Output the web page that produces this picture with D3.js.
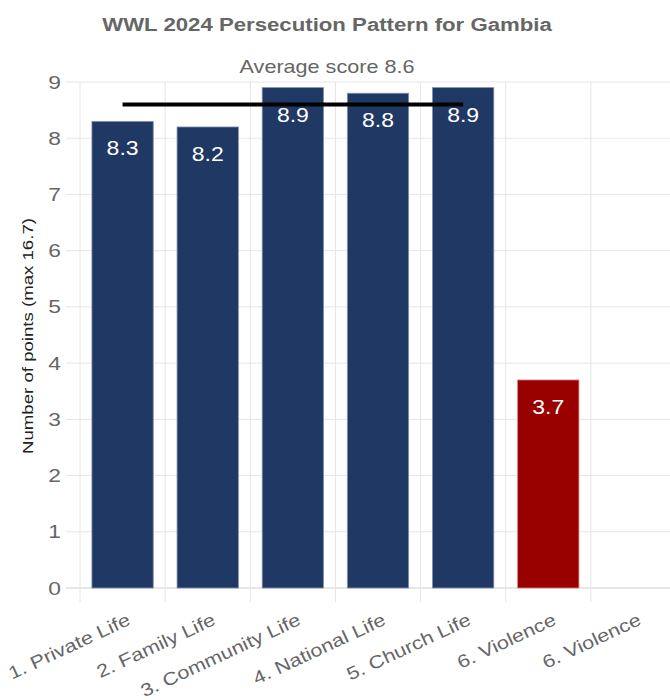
<!DOCTYPE html>
<html>
<head>
<meta charset="utf-8">
<script src="https://cdn.jsdelivr.net/npm/d3@7"></script>
<style>
  body { margin: 0; background: #fff; }
  svg { font-family: "Liberation Sans", Arial, sans-serif; }
</style>
</head>
<body>
<div id="chart"></div>
<script>
const categories = ['1. Private Life', '2. Family Life', '3. Community Life', '4. National Life', '5. Church Life', '6. Violence', '6. Violence '];
const scores = [8.3, 8.2, 8.9, 8.8, 8.9, 3.7, null];
const barColors = ['#203864', '#203864', '#203864', '#203864', '#203864', '#990000', '#990000'];
const averageLine = [8.6, 8.6, 8.6, 8.6, 8.6, null, null];
const yTicks = [0, 1, 2, 3, 4, 5, 6, 7, 8, 9];

const width = 670;
const height = 700;
const margin = { top: 82, right: -6, bottom: 112, left: 80 };
const innerWidth = width - margin.left - margin.right;
const innerHeight = height - margin.top - margin.bottom;
// text in the chart is drawn a bit wider than normal
const stretch = 1.2;

const svg = d3.select('#chart')
  .append('svg')
  .attr('width', width)
  .attr('height', height);

svg.append('text')
  .attr('transform', `translate(327,31) scale(${stretch},1)`)
  .attr('text-anchor', 'middle')
  .attr('font-size', 18.5)
  .attr('font-weight', 'bold')
  .attr('fill', '#666')
  .text('WWL 2024 Persecution Pattern for Gambia');

svg.append('text')
  .attr('transform', `translate(327,73) scale(${stretch},1)`)
  .attr('text-anchor', 'middle')
  .attr('font-size', 18)
  .attr('fill', '#666')
  .text('Average score 8.6');

const g = svg.append('g')
  .attr('transform', `translate(${margin.left},${margin.top})`);

const xScale = d3.scaleBand()
  .domain(categories)
  .range([0, innerWidth])
  .paddingInner(0.28)
  .paddingOuter(0.14);
const step = xScale.step();
const yScale = d3.scaleLinear().domain([0, 9]).range([innerHeight, 0]);

// grid
g.append('g')
  .selectAll('line')
  .data(yTicks)
  .enter()
  .append('line')
  .attr('x1', -14)
  .attr('x2', innerWidth)
  .attr('y1', (d) => yScale(d))
  .attr('y2', (d) => yScale(d))
  .attr('stroke', (d) => (d === 0 ? '#d0d0d0' : '#e6e6e6'))
  .attr('stroke-width', 1);

g.append('g')
  .selectAll('line')
  .data(categories)
  .enter()
  .append('line')
  .attr('x1', (d, i) => i * step)
  .attr('x2', (d, i) => i * step)
  .attr('y1', 0)
  .attr('y2', innerHeight + 14)
  .attr('stroke', '#e6e6e6')
  .attr('stroke-width', 1);

// y axis
const yAxis = d3.axisLeft(yScale).tickValues(yTicks).tickSize(0);
const yAxisG = g.append('g').call(yAxis);
yAxisG.select('.domain').remove();
yAxisG.selectAll('text')
  .attr('x', 0)
  .attr('transform', `translate(-19,0) scale(${stretch},1)`)
  .attr('font-size', 19)
  .attr('fill', '#666')
  .attr('font-family', '"Liberation Sans", Arial, sans-serif');

svg.append('text')
  .attr('transform', `translate(33,336) rotate(-90) scale(1.33,1)`)
  .attr('text-anchor', 'middle')
  .attr('font-size', 14)
  .attr('fill', '#222')
  .text('Number of points (max 16.7)');

// x labels
g.append('g')
  .selectAll('text')
  .data(categories)
  .enter()
  .append('text')
  .attr('transform', (d) => `translate(${xScale(d) + xScale.bandwidth() / 2 + 9},${innerHeight + 36}) rotate(-25) scale(${stretch},1)`)
  .attr('text-anchor', 'end')
  .attr('font-size', 18)
  .attr('fill', '#666')
  .text((d) => d.trim());

// bars
const barData = categories.map((c, i) => ({ cat: c, value: scores[i], color: barColors[i] }))
  .filter((d) => d.value !== null);

g.selectAll('.bar')
  .data(barData)
  .enter()
  .append('rect')
  .attr('class', 'bar')
  .attr('x', (d) => xScale(d.cat))
  .attr('y', (d) => yScale(d.value))
  .attr('width', xScale.bandwidth())
  .attr('height', (d) => innerHeight - yScale(d.value))
  .attr('fill', (d) => d.color)
  .attr('stroke', (d) => (d.color === '#990000' ? '#d98080' : '#8090b0'))
  .attr('stroke-width', 0.8);

// average line
const lineData = categories.map((c, i) => ({ cat: c, value: averageLine[i] }))
  .filter((d) => d.value !== null);
const valueline = d3.line()
  .x((d) => xScale(d.cat) + xScale.bandwidth() / 2)
  .y((d) => yScale(d.value));

g.append('path')
  .attr('d', valueline(lineData))
  .attr('fill', 'none')
  .attr('stroke', '#000')
  .attr('stroke-width', 4);

// value labels
g.selectAll('.label')
  .data(barData)
  .enter()
  .append('text')
  .attr('class', 'label')
  .attr('transform', (d) => `translate(${xScale(d.cat) + xScale.bandwidth() / 2},${yScale(d.value) + 34}) scale(1.15,1)`)
  .attr('text-anchor', 'middle')
  .attr('font-size', 20)
  .attr('fill', '#fff')
  .text((d) => d.value.toFixed(1));
</script>
</body>
</html>
